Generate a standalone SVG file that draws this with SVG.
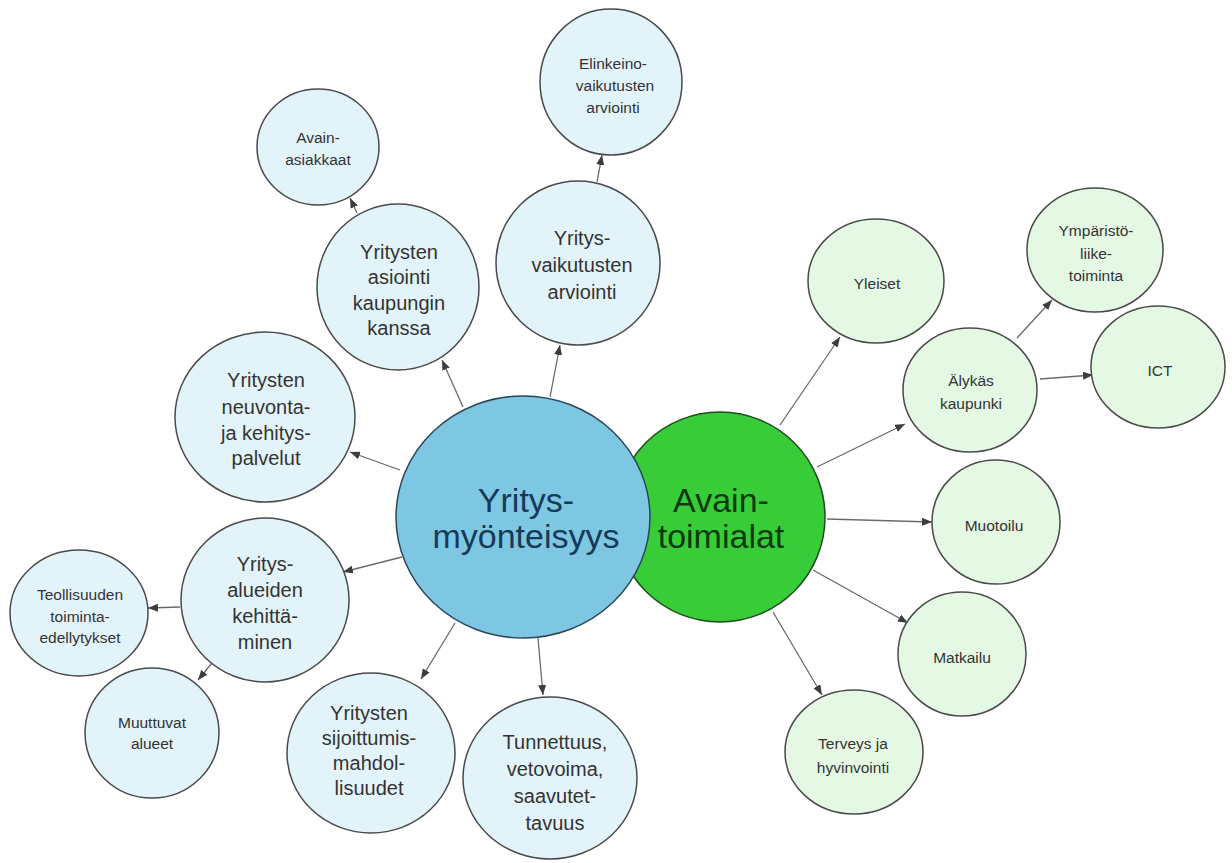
<svg xmlns="http://www.w3.org/2000/svg" width="1232" height="863" viewBox="0 0 1232 863">
<style>
  .n ellipse { stroke: #4a4a4a; stroke-width: 1.5; }
  .b ellipse { fill: #E3F3FA; }
  .g ellipse { fill: #E4F8E4; }
  .n text { font-family: "Liberation Sans", Arial, sans-serif; fill: #333; text-anchor: middle; }
  .mid text { font-size: 20px; }
  .sm text { font-size: 15.5px; }
  .main text { font-family: "Liberation Sans", Arial, sans-serif; font-size: 34px; text-anchor: middle; }
  #connectors line { stroke: #6a6a6a; stroke-width: 1.3; marker-end: url(#arr); }
</style>
<defs>
  <marker id="arr" markerUnits="userSpaceOnUse" markerWidth="10" markerHeight="8" refX="10" refY="4" orient="auto">
    <path d="M0,0 L10,4 L0,8 z" fill="#3d3d3d"/>
  </marker>
</defs>
<rect width="1232" height="863" fill="#ffffff"/>

<g id="connectors">
  <line x1="400" y1="470" x2="350" y2="452"/>
  <line x1="463" y1="407" x2="442" y2="360"/>
  <line x1="357" y1="213" x2="350" y2="198"/>
  <line x1="550" y1="397" x2="560" y2="345"/>
  <line x1="597" y1="182" x2="602" y2="155"/>
  <line x1="402" y1="557" x2="343" y2="572"/>
  <line x1="180" y1="607" x2="148" y2="608"/>
  <line x1="212" y1="663" x2="198" y2="680"/>
  <line x1="455" y1="623" x2="421" y2="679"/>
  <line x1="538" y1="638" x2="543" y2="695"/>
  <line x1="780" y1="425" x2="840" y2="337"/>
  <line x1="817" y1="467" x2="905" y2="424"/>
  <line x1="827" y1="519" x2="932" y2="522"/>
  <line x1="813" y1="570" x2="908" y2="623"/>
  <line x1="773" y1="612" x2="822" y2="695"/>
  <line x1="1017" y1="338" x2="1052" y2="300"/>
  <line x1="1040" y1="379" x2="1093" y2="375"/>
</g>

<g id="avaintoimialat" class="main">
  <ellipse cx="720" cy="517" rx="105" ry="105" fill="#38CC38" stroke="#1d4d1d" stroke-width="1.5"/>
  <text x="721" y="512" fill="#0c3a0c">Avain-</text>
  <text x="721" y="548" fill="#0c3a0c">toimialat</text>
</g>
<g id="yritysmyonteisyys" class="main">
  <ellipse cx="523" cy="517" rx="127" ry="121" fill="#7EC7E2" stroke="#2a4656" stroke-width="1.5"/>
  <text x="526" y="512" fill="#163a58">Yritys-</text>
  <text x="526" y="548" fill="#163a58">myönteisyys</text>
</g>

<g id="avain-asiakkaat" class="n b sm">
  <ellipse cx="318" cy="147" rx="61" ry="58"/>
  <text x="318" y="143">Avain-</text>
  <text x="318" y="165">asiakkaat</text>
</g>
<g id="elinkeino" class="n b sm">
  <ellipse cx="611" cy="82" rx="71" ry="73"/>
  <text x="613" y="69">Elinkeino-</text>
  <text x="615" y="91">vaikutusten</text>
  <text x="613" y="113">arviointi</text>
</g>
<g id="yritysvaikutusten" class="n b mid">
  <ellipse cx="578" cy="263" rx="82" ry="82"/>
  <text x="582" y="245">Yritys-</text>
  <text x="582" y="272">vaikutusten</text>
  <text x="582" y="299">arviointi</text>
</g>
<g id="asiointi" class="n b mid">
  <ellipse cx="398" cy="287" rx="81" ry="83"/>
  <text x="399" y="259">Yritysten</text>
  <text x="399" y="284">asiointi</text>
  <text x="399" y="310">kaupungin</text>
  <text x="399" y="335">kanssa</text>
</g>
<g id="neuvonta" class="n b mid">
  <ellipse cx="265" cy="417" rx="90" ry="85"/>
  <text x="266" y="387">Yritysten</text>
  <text x="266" y="414">neuvonta-</text>
  <text x="266" y="440">ja kehitys-</text>
  <text x="266" y="465">palvelut</text>
</g>
<g id="alueiden" class="n b mid">
  <ellipse cx="265" cy="600" rx="84" ry="82"/>
  <text x="265" y="571">Yritys-</text>
  <text x="265" y="597">alueiden</text>
  <text x="265" y="623">kehittä-</text>
  <text x="265" y="649">minen</text>
</g>
<g id="teollisuuden" class="n b sm">
  <ellipse cx="79" cy="613" rx="69" ry="63"/>
  <text x="80" y="600">Teollisuuden</text>
  <text x="80" y="622">toiminta-</text>
  <text x="80" y="643">edellytykset</text>
</g>
<g id="muuttuvat" class="n b sm">
  <ellipse cx="152" cy="733" rx="67" ry="65"/>
  <text x="152" y="728">Muuttuvat</text>
  <text x="152" y="749">alueet</text>
</g>
<g id="sijoittumis" class="n b mid">
  <ellipse cx="371" cy="753" rx="84" ry="80"/>
  <text x="369" y="720">Yritysten</text>
  <text x="369" y="745">sijoittumis-</text>
  <text x="369" y="770">mahdol-</text>
  <text x="369" y="795">lisuudet</text>
</g>
<g id="tunnettuus" class="n b mid">
  <ellipse cx="550" cy="778" rx="87" ry="81"/>
  <text x="555" y="749">Tunnettuus,</text>
  <text x="555" y="776">vetovoima,</text>
  <text x="555" y="803">saavutet-</text>
  <text x="555" y="830">tavuus</text>
</g>

<g id="yleiset" class="n g sm">
  <ellipse cx="876" cy="281" rx="68" ry="62"/>
  <text x="877" y="289">Yleiset</text>
</g>
<g id="ymparisto" class="n g sm">
  <ellipse cx="1095" cy="250" rx="68" ry="62"/>
  <text x="1096" y="236">Ympäristö-</text>
  <text x="1096" y="259">liike-</text>
  <text x="1096" y="281">toiminta</text>
</g>
<g id="ict" class="n g sm">
  <ellipse cx="1158" cy="367" rx="67" ry="61"/>
  <text x="1160" y="376">ICT</text>
</g>
<g id="alykas" class="n g sm">
  <ellipse cx="970" cy="390" rx="67" ry="62"/>
  <text x="971" y="386">Älykäs</text>
  <text x="971" y="409">kaupunki</text>
</g>
<g id="muotoilu" class="n g sm">
  <ellipse cx="996" cy="522" rx="64" ry="62"/>
  <text x="994" y="531">Muotoilu</text>
</g>
<g id="matkailu" class="n g sm">
  <ellipse cx="962" cy="654" rx="64" ry="62"/>
  <text x="962" y="663">Matkailu</text>
</g>
<g id="terveys" class="n g sm">
  <ellipse cx="854" cy="752" rx="69" ry="62"/>
  <text x="853" y="749">Terveys ja</text>
  <text x="853" y="773">hyvinvointi</text>
</g>
</svg>
